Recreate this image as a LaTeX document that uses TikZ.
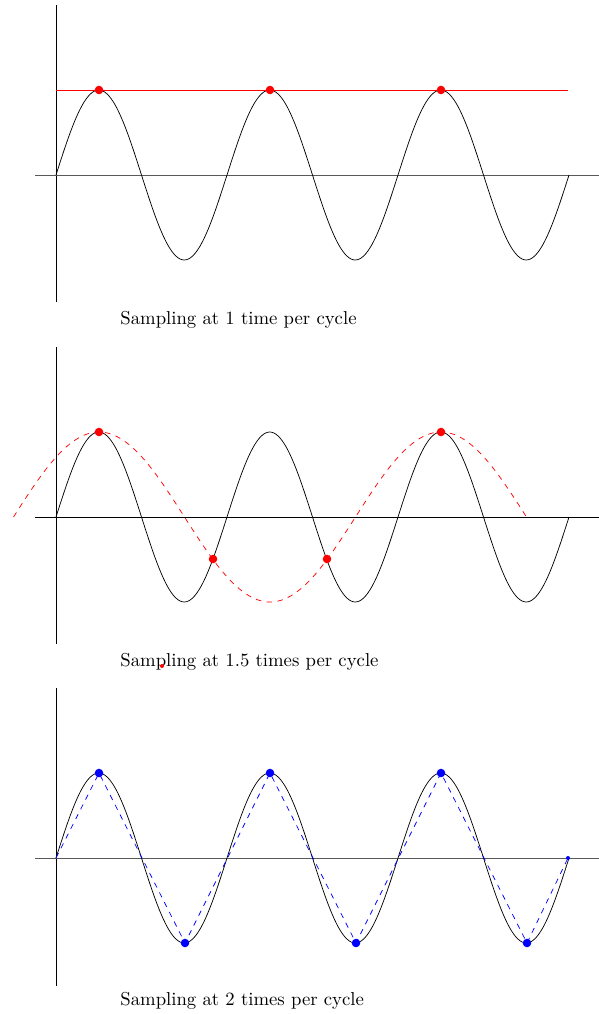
\documentclass[tikz,border=0pt]{standalone}
\usepackage{amsmath,amssymb}
\usepackage{tikz}
\usetikzlibrary{arrows.meta,positioning,calc}
\tikzset{
  axis/.style={black},
  xaxis/.style={black!65},
  wave/.style={black},
  alias/.style={red, dashed},
  recon/.style={blue, dashed},
  rdot/.style={circle, fill=red, inner sep=0pt, minimum size=4.7pt},
  bdot/.style={circle, fill=blue, inner sep=0pt, minimum size=4.7pt},
  tinydot/.style={circle, inner sep=0pt, minimum size=2.2pt},
  caption/.style={anchor=west, inner sep=0pt, scale=1.03, transform shape},
}
\usepackage{xcolor}

\begin{document}
\begin{tikzpicture}[x=0.55pt, y=-0.55pt]
  \useasboundingbox (0,0) rectangle (599,1014);

  % panel 1: once per cycle
  \draw[axis] (56,5) -- (56,302);
  \draw[xaxis] (35,175) -- (599,175);
  \draw[wave] plot[domain=0:513, samples=241, smooth] ({56+\x}, {175-85*sin(\x/171*360)});
  \node[rdot] (a1) at (99,90) {};
  \node[rdot] (a2) at (270,90) {};
  \node[rdot] (a3) at (441,90) {};
  \coordinate (astart) at (56,90);
  \coordinate (aend) at (568,90);
  \draw[red] (astart) -- (aend);
  \node[caption] (cap1) at (120,320) {Sampling at 1 time per cycle};

  % panel 2: 1.5 times per cycle
  \draw[axis] (56,347) -- (56,644);
  \draw[axis] (35,517) -- (599,517);
  \draw[wave] plot[domain=0:513, samples=241, smooth] ({56+\x}, {517-85*sin(\x/171*360)});
  \draw[alias] plot[domain=13.5:526.5, samples=181, smooth] (\x, {517-85*cos((\x-99)/342*360)});
  \node[rdot] (b1) at (99,432) {};
  \node[rdot] (b2) at (213,559) {};
  \node[rdot] (b3) at (327,559) {};
  \node[rdot] (b4) at (441,432) {};
  \node[caption] (cap2) at (120,662) {Sampling at 1.5 times per cycle};
  \node[tinydot, fill=red] (stray) at (162,666) {};

  % panel 3: twice per cycle
  \draw[axis] (56,688) -- (56,986);
  \draw[xaxis] (35,858) -- (599,858);
  \draw[wave] plot[domain=0:513, samples=241, smooth] ({56+\x}, {858-85*sin(\x/171*360)});
  \coordinate (c0) at (56,858);
  \node[bdot] (c1) at (99,773) {};
  \node[bdot] (c2) at (185,943) {};
  \node[bdot] (c3) at (270,773) {};
  \node[bdot] (c4) at (356,943) {};
  \node[bdot] (c5) at (441,773) {};
  \node[bdot] (c6) at (527,943) {};
  \node[tinydot, fill=blue] (c7) at (568,858) {};
  \draw[recon] (c0) -- (c1.center) -- (c2.center) -- (c3.center) -- (c4.center)
    -- (c5.center) -- (c6.center) -- (c7.center);
  \node[caption] (cap3) at (120,1001) {Sampling at 2 times per cycle};

\end{tikzpicture}
\end{document}
